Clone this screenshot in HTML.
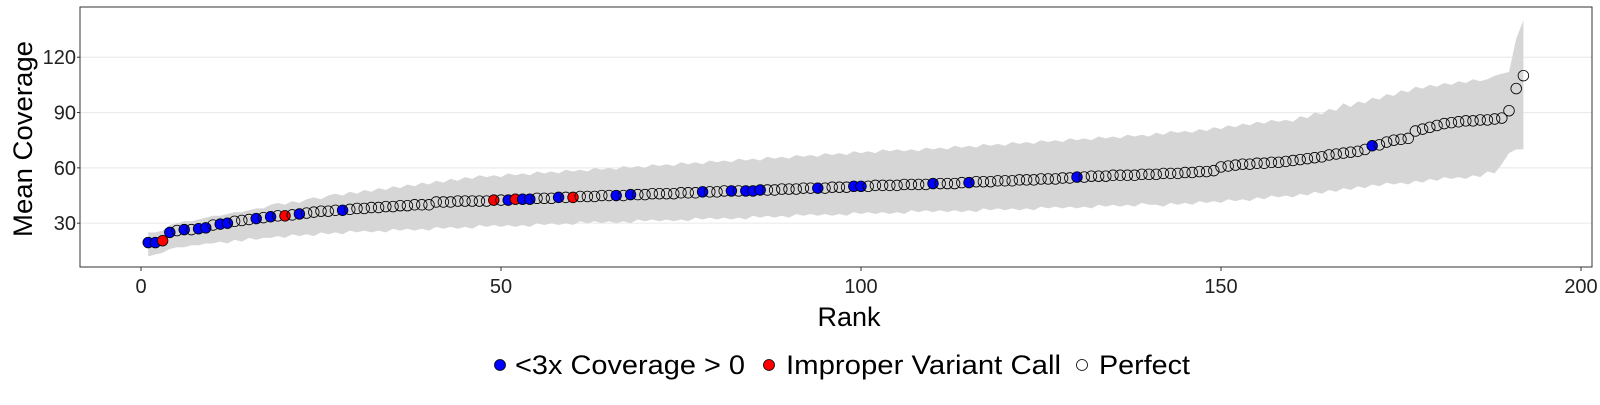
<!DOCTYPE html>
<html><head><meta charset="utf-8"><style>
body{margin:0;background:#fff;width:1600px;height:400px;overflow:hidden}
svg text{font-family:"Liberation Sans",sans-serif}
</style></head><body>
<svg id="chart" width="1600" height="400">
<rect x="0" y="0" width="1600" height="400" fill="#fff"/>
<g id="grid"></g><g id="ribbon"></g><g id="points"></g><g id="axes"></g>
<g>
<circle cx="500" cy="365" r="5.5" fill="#0000ff" stroke="#000" stroke-width="0.8"/>
<text x="515" y="374" font-size="27" textLength="230" lengthAdjust="spacingAndGlyphs" fill="#000">&lt;3x Coverage &gt; 0</text>
<circle cx="769" cy="365" r="5.5" fill="#ff0000" stroke="#000" stroke-width="0.8"/>
<text x="786" y="374" font-size="27" textLength="275" lengthAdjust="spacingAndGlyphs" fill="#000">Improper Variant Call</text>
<circle cx="1082" cy="365" r="5.5" fill="#fff" stroke="#000" stroke-width="0.8"/>
<text x="1099" y="374" font-size="27" textLength="91" lengthAdjust="spacingAndGlyphs" fill="#000">Perfect</text>
</g>
<text x="849" y="326" font-size="27" text-anchor="middle" fill="#000">Rank</text>
<text transform="translate(32,139) rotate(-90)" font-size="27" textLength="196" lengthAdjust="spacingAndGlyphs" text-anchor="middle" fill="#000">Mean Coverage</text>
</svg>
<script>
const meanCoverage=[19.5,19.5,20.5,25,26,26.5,26.5,27,27.5,29,
29.5,30,31,31.5,32,32.5,33,33.5,34,34,
34.5,35,35.5,36,36.5,36.5,37,37,37.5,38,
38,38.5,38.5,39,39,39.5,39.5,40,40,40,
41.5,41.5,41.5,42,42,42,42,42,42.5,42.5,
42.5,43,43,43,43.5,43.5,43.5,44,44,44,
44.5,44.5,44.5,45,45,45,45,45.5,45.5,45.5,
46,46,46,46,46.5,46.5,46.5,47,47,47,
47.5,47.5,47.5,47.5,47.5,48,48,48,48.5,48.5,
48.5,49,49,49,49,49.5,49.5,49.5,50,50,
50,50.5,50.5,50.5,50.5,51,51,51,51,51.5,
51.5,51.5,51.5,52,52,52.5,52.5,52.5,53,53,
53,53.5,53.5,53.5,54,54,54,54.5,54.5,55,
55,55.5,55.5,55.5,56,56,56,56,56.5,56.5,
56.5,57,57,57,57.5,57.5,58,58,58.5,60.5,
61,61.5,62,62,62.5,62.5,63,63,63.5,64,
64.5,65,65.5,66,67,67.5,68,68.5,69,70,
72,72.5,74,75,75.5,76,80,81,82,83,
84,84.5,85,85.5,85.5,86,86,86.5,87,91,
103,110];
const upperBand=[25,25,26,29,30,31,31,32,33,34,
34,35,36,36,37,38,38,40,41,40,
42,41,43,44,43,45,46,45,47,46,
48,47,49,48,50,49,51,50,52,51,
53,52,54,53,55,54,56,55,56,55,
57,56,57,56,58,57,58,57,59,58,
59,58,60,59,60,59,61,60,61,60,
62,61,62,61,63,62,63,62,64,63,
64,63,65,64,65,64,66,65,66,65,
67,66,67,66,68,67,68,67,69,68,
69,68,70,69,70,69,70,69,71,70,
71,70,72,71,72,71,73,72,73,72,
74,73,74,73,75,74,75,74,76,75,
76,75,77,76,77,76,78,77,78,77,
79,78,80,79,80,79,81,80,82,81,
83,82,84,83,85,84,86,85,86,85,
88,87,90,89,92,91,95,93,96,95,
98,97,100,99,102,101,104,103,105,104,
106,105,107,106,108,107,108,110,111,112,
130,140];
const lowerBand=[12,13,14,16,17,17,18,18,19,19,
20,19,21,20,22,21,22,22,23,22,
24,23,24,23,25,24,25,24,26,25,
26,25,26,25,27,26,27,26,27,26,
28,27,28,27,28,27,29,28,29,28,
29,28,29,28,30,29,30,29,30,29,
31,30,31,30,31,30,31,30,32,31,
32,31,32,31,32,31,33,32,33,32,
33,32,33,32,34,33,34,33,34,33,
35,34,35,34,35,34,35,34,36,35,
36,35,36,35,36,35,37,36,37,36,
37,36,37,36,37,36,38,37,38,37,
38,37,38,37,39,38,39,38,39,38,
39,38,40,39,40,39,40,39,41,40,
40,39,41,40,41,40,42,41,42,41,
43,42,43,42,44,43,45,44,45,44,
46,45,47,46,48,47,49,48,50,49,
51,50,52,51,52,51,53,52,54,53,
55,54,55,54,56,55,58,57,62,68,
70,70];
const lowCoverageRanks=[1,2,4,6,8,9,11,12,16,18,22,28,51,53,54,58,66,68,78,82,84,85,86,94,99,100,110,115,130,171];
const improperCallRanks=[3,20,49,52,60];
const xTicks=[0,50,100,150,200];
const yTicks=[30,60,90,120];

const NS='http://www.w3.org/2000/svg';
const PL=80,PR=1592,PT=7,PB=267;
const xs=v=>141+v*7.2;
const ys=v=>278.5-v*1.844;
function mk(tag,attrs,parent){const e=document.createElementNS(NS,tag);for(const k in attrs)e.setAttribute(k,attrs[k]);parent.appendChild(e);return e;}
const grid=document.getElementById('grid'),rib=document.getElementById('ribbon'),pts=document.getElementById('points'),axes=document.getElementById('axes');
yTicks.forEach(t=>{
  const l=mk('line',{x1:PL,x2:PR,y1:ys(t),y2:ys(t),stroke:'#ebebeb','stroke-width':1.2},grid);
  
  
  const tk=mk('line',{x1:PL-3,x2:PL,y1:ys(t),y2:ys(t),stroke:'#333'},axes);
  
  
  const tx=mk('text',{x:PL-4,y:ys(t)+7,'font-size':20,'text-anchor':'end',fill:'#222'},axes);
  tx.textContent=t;
  
  
});
xTicks.forEach(t=>{
  const tk=mk('line',{x1:xs(t),x2:xs(t),y1:PB,y2:PB+4,stroke:'#333'},axes);
  
  
  const tx=mk('text',{x:xs(t),y:PB+26,'font-size':20,'text-anchor':'middle',fill:'#222'},axes);
  tx.textContent=t;
  
  
});
let d='';
upperBand.forEach((v,i)=>{d+=(i?'L':'M')+xs(i+1).toFixed(1)+','+ys(v).toFixed(1);});
for(let i=lowerBand.length-1;i>=0;i--)d+='L'+xs(i+1).toFixed(1)+','+ys(lowerBand[i]).toFixed(1);
const rb=mk('path',{d:d+'Z',fill:'#d6d6d6'},rib);


meanCoverage.forEach((v,i)=>{
  const r=i+1;
  let fill='#fff',nm='point-perfect';
  if(lowCoverageRanks.includes(r)){fill='#0000ff';nm='point-low-coverage';}
  else if(improperCallRanks.includes(r)){fill='#ff0000';nm='point-improper-call';}
  const c=mk('circle',{cx:xs(r),cy:ys(v),r:5.3,fill:fill,stroke:'#000','stroke-width':0.8,'fill-opacity':fill==='#fff'?0:1},pts);
  
  
});
const fr=mk('rect',{x:PL,y:PT,width:PR-PL,height:PB-PT,fill:'none',stroke:'#333','stroke-width':1},axes);


</script>
</body></html>
